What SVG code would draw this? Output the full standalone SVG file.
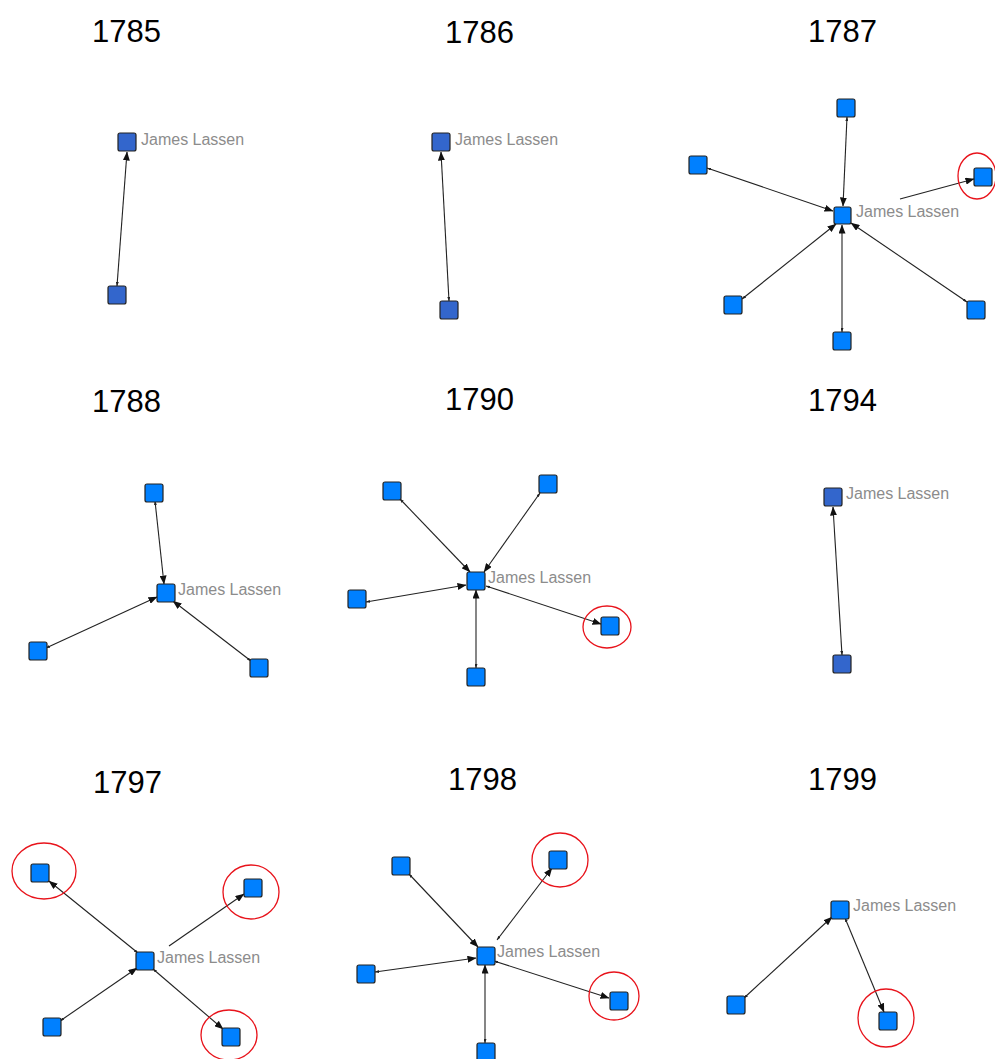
<svg xmlns="http://www.w3.org/2000/svg" width="995" height="1059" viewBox="0 0 995 1059">
<defs>
<marker id="arr" markerUnits="userSpaceOnUse" markerWidth="9" markerHeight="7" refX="8.5" refY="3.5" orient="auto">
<path d="M0,0 L9,3.5 L0,7 z" fill="#111"/>
</marker>
<marker id="tick" markerUnits="userSpaceOnUse" markerWidth="4" markerHeight="3" refX="0" refY="1.5" orient="auto">
<path d="M4,0 L0,1.5 L4,3 z" fill="#222"/>
</marker>
</defs>
<style>
.title{font-family:"Liberation Sans",Arial,sans-serif;font-size:31px;fill:#000}
.lbl{font-family:"Liberation Sans",Arial,sans-serif;font-size:16px;fill:#8c8c8c}
.n{fill:#0080FF;stroke:#222;stroke-width:1.2}
.d{fill:#3366CC;stroke:#222;stroke-width:1.2}
.e{stroke:#222;stroke-width:1.1;fill:none;marker-end:url(#arr);marker-start:url(#tick)}
.e2{stroke:#222;stroke-width:1.1;fill:none;marker-end:url(#arr)}
.r{fill:none;stroke:#e8131b;stroke-width:1.3}
</style>
<rect width="995" height="1059" fill="#fff"/>

<g id="titles">
<text class="title" x="92" y="42">1785</text>
<text class="title" x="445" y="43">1786</text>
<text class="title" x="808" y="42">1787</text>
<text class="title" x="92" y="412">1788</text>
<text class="title" x="445" y="410">1790</text>
<text class="title" x="808" y="411">1794</text>
<text class="title" x="93" y="793">1797</text>
<text class="title" x="448" y="790">1798</text>
<text class="title" x="808" y="790">1799</text>
</g>

<g id="connectors">
<line class="e" x1="117" y1="286" x2="127" y2="152"/>
<line class="e" x1="449" y1="301" x2="441" y2="152"/>
<line class="e" x1="847" y1="117" x2="843" y2="206"/>
<line class="e" x1="707" y1="168" x2="833" y2="211"/>
<line class="e2" x1="900" y1="199" x2="974" y2="179"/>
<line class="e" x1="742" y1="299" x2="836" y2="224"/>
<line class="e" x1="842" y1="332" x2="842" y2="225"/>
<line class="e" x1="967" y1="302" x2="851" y2="223"/>
<line class="e" x1="155" y1="501" x2="164" y2="584"/>
<line class="e" x1="46" y1="648" x2="157" y2="597"/>
<line class="e" x1="251" y1="661" x2="173" y2="601"/>
<line class="e" x1="400" y1="499" x2="470" y2="572"/>
<line class="e" x1="540" y1="493" x2="484" y2="572"/>
<line class="e" x1="366" y1="602" x2="466" y2="585"/>
<line class="e" x1="486" y1="586" x2="601" y2="624"/>
<line class="e" x1="476" y1="668" x2="476" y2="590"/>
<line class="e" x1="842" y1="655" x2="833" y2="507"/>
<line class="e" x1="138" y1="953" x2="49" y2="881"/>
<line class="e2" x1="169" y1="946" x2="244" y2="894"/>
<line class="e" x1="60" y1="1021" x2="137" y2="968"/>
<line class="e" x1="153" y1="969" x2="223" y2="1029"/>
<line class="e" x1="409" y1="874" x2="478" y2="947"/>
<line class="e" x1="497" y1="940" x2="552" y2="868"/>
<line class="e" x1="375" y1="972" x2="476" y2="958"/>
<line class="e" x1="494" y1="961" x2="609" y2="998"/>
<line class="e" x1="485" y1="1043" x2="485" y2="965"/>
<line class="e" x1="744" y1="998" x2="832" y2="917"/>
<line class="e" x1="845" y1="918" x2="884" y2="1012"/>
</g>

<g id="p1785">
<g id="n1785a"><rect class="d" x="118" y="133" width="18" height="18" rx="2"/><text class="lbl" x="141" y="145">James Lassen</text></g>
<g id="n1785b"><rect class="d" x="108" y="286" width="18" height="18" rx="2"/></g>
</g>

<g id="p1786">
<g id="n1786a"><rect class="d" x="432" y="133" width="18" height="18" rx="2"/><text class="lbl" x="455" y="145">James Lassen</text></g>
<g id="n1786b"><rect class="d" x="440" y="301" width="18" height="18" rx="2"/></g>
</g>

<g id="p1787">
<g id="n1787c"><rect class="n" x="834" y="207" width="17" height="17" rx="2"/><text class="lbl" x="856" y="217">James Lassen</text></g>
<g id="n1787t"><rect class="n" x="837" y="99" width="18" height="18" rx="2"/></g>
<g id="n1787l"><rect class="n" x="689" y="156" width="18" height="18" rx="2"/></g>
<g id="n1787r"><rect class="n" x="974" y="168" width="18" height="18" rx="2"/><ellipse class="r" cx="977" cy="176" rx="19" ry="23"/></g>
<g id="n1787bl"><rect class="n" x="724" y="296" width="18" height="18" rx="2"/></g>
<g id="n1787b"><rect class="n" x="833" y="332" width="18" height="18" rx="2"/></g>
<g id="n1787br"><rect class="n" x="967" y="301" width="18" height="18" rx="2"/></g>
</g>

<g id="p1788">
<g id="n1788c"><rect class="n" x="157" y="584" width="18" height="18" rx="2"/><text class="lbl" x="178" y="595">James Lassen</text></g>
<g id="n1788t"><rect class="n" x="145" y="484" width="18" height="18" rx="2"/></g>
<g id="n1788l"><rect class="n" x="29" y="642" width="18" height="18" rx="2"/></g>
<g id="n1788r"><rect class="n" x="250" y="659" width="18" height="18" rx="2"/></g>
</g>

<g id="p1790">
<g id="n1790c"><rect class="n" x="467" y="572" width="18" height="18" rx="2"/><text class="lbl" x="488" y="583">James Lassen</text></g>
<g id="n1790tl"><rect class="n" x="383" y="482" width="18" height="18" rx="2"/></g>
<g id="n1790tr"><rect class="n" x="539" y="475" width="18" height="18" rx="2"/></g>
<g id="n1790l"><rect class="n" x="348" y="590" width="18" height="18" rx="2"/></g>
<g id="n1790r"><rect class="n" x="601" y="617" width="18" height="18" rx="2"/><ellipse class="r" cx="607" cy="627" rx="24" ry="21"/></g>
<g id="n1790b"><rect class="n" x="467" y="668" width="18" height="18" rx="2"/></g>
</g>

<g id="p1794">
<g id="n1794a"><rect class="d" x="824" y="488" width="18" height="18" rx="2"/><text class="lbl" x="846" y="499">James Lassen</text></g>
<g id="n1794b"><rect class="d" x="833" y="655" width="18" height="18" rx="2"/></g>
</g>

<g id="p1797">
<g id="n1797c"><rect class="n" x="136" y="952" width="18" height="18" rx="2"/><text class="lbl" x="157" y="963">James Lassen</text></g>
<g id="n1797tl"><rect class="n" x="31" y="864" width="18" height="18" rx="2"/><ellipse class="r" cx="44" cy="871" rx="32" ry="28"/></g>
<g id="n1797tr"><rect class="n" x="244" y="879" width="18" height="18" rx="2"/><ellipse class="r" cx="251" cy="892" rx="28" ry="27"/></g>
<g id="n1797bl"><rect class="n" x="43" y="1018" width="18" height="18" rx="2"/></g>
<g id="n1797br"><rect class="n" x="222" y="1028" width="18" height="18" rx="2"/><ellipse class="r" cx="229" cy="1035" rx="28" ry="25"/></g>
</g>

<g id="p1798">
<g id="n1798c"><rect class="n" x="477" y="947" width="18" height="18" rx="2"/><text class="lbl" x="497" y="957">James Lassen</text></g>
<g id="n1798tl"><rect class="n" x="392" y="857" width="18" height="18" rx="2"/></g>
<g id="n1798tr"><rect class="n" x="549" y="851" width="18" height="18" rx="2"/><ellipse class="r" cx="560" cy="860" rx="28" ry="27"/></g>
<g id="n1798l"><rect class="n" x="357" y="965" width="18" height="18" rx="2"/></g>
<g id="n1798r"><rect class="n" x="610" y="992" width="18" height="18" rx="2"/><ellipse class="r" cx="614" cy="996" rx="25" ry="24"/></g>
<g id="n1798b"><rect class="n" x="477" y="1043" width="18" height="18" rx="2"/></g>
</g>

<g id="p1799">
<g id="n1799c"><rect class="n" x="831" y="901" width="18" height="18" rx="2"/><text class="lbl" x="853" y="911">James Lassen</text></g>
<g id="n1799l"><rect class="n" x="727" y="996" width="18" height="18" rx="2"/></g>
<g id="n1799b"><rect class="n" x="879" y="1012" width="18" height="18" rx="2"/><ellipse class="r" cx="886" cy="1018" rx="28" ry="29"/></g>
</g>
</svg>
